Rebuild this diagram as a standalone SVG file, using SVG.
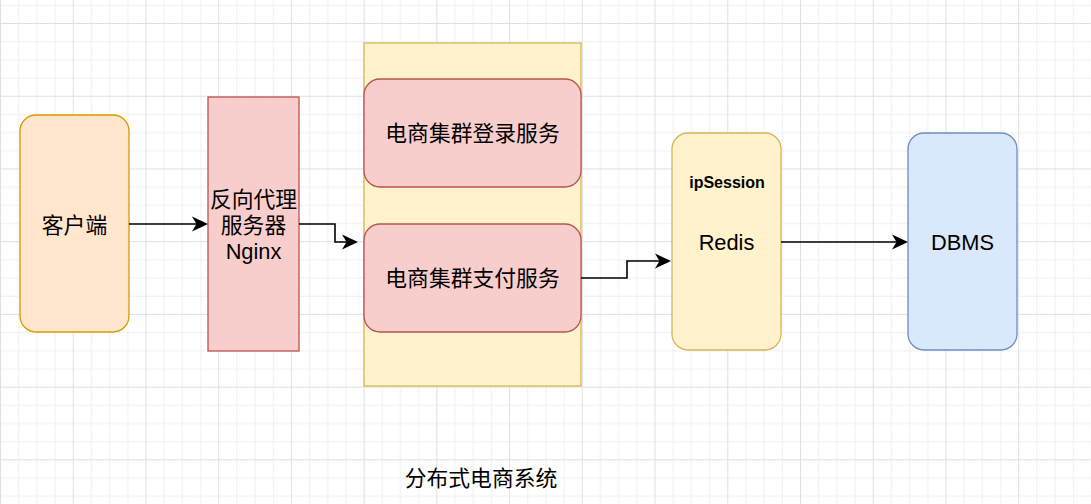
<svg xmlns="http://www.w3.org/2000/svg" width="1091" height="504" viewBox="0 0 1091 504">
<style>
.t{font-family:"Liberation Sans","Noto Sans CJK SC",sans-serif;font-size:21.8px;fill:#000;text-anchor:middle;dominant-baseline:central}
.b{font-family:"Liberation Sans","Noto Sans CJK SC",sans-serif;font-size:16px;font-weight:bold;fill:#000;text-anchor:middle;dominant-baseline:central}
.red{fill:#f8cecc;stroke:#b85450;stroke-width:1.3}
.yel{fill:#fff2cc;stroke:#d6b656;stroke-width:1.3}
.org{fill:#ffe6cc;stroke:#d79b00;stroke-width:1.3}
.blu{fill:#dae8fc;stroke:#6c8ebf;stroke-width:1.3}
.c{fill:none;stroke:#000;stroke-width:1.6;marker-end:url(#arr)}
</style>
<defs>
<pattern id="grid" patternUnits="userSpaceOnUse" x="0" y="23" width="72.727" height="72.727">
<path d="M18.68,0V72.727M36.86,0V72.727M55.05,0V72.727M0,18.68H72.727M0,36.86H72.727M0,55.05H72.727" stroke="#f0f0f0" stroke-width="1"/>
<path d="M0.5,0V72.727M0,0.5H72.727" stroke="#e0e0e0" stroke-width="1"/>
</pattern>
<marker id="arr" markerUnits="userSpaceOnUse" markerWidth="17" markerHeight="17" refX="12" refY="8.5" orient="auto">
<path d="M0,1 L16,8.5 L0,16 L4.5,8.5 Z" fill="#000"/>
</marker>
</defs>
<rect width="1091" height="504" fill="#fff"/>
<rect width="1091" height="504" fill="url(#grid)"/>
<g id="client"><rect class="org" x="20" y="115" width="109" height="217" rx="16"/><text class="t" x="74.5" y="225">客户端</text></g>
<g id="nginx"><rect class="red" x="208" y="97" width="91" height="254"/><text class="t" x="253.5" y="199">反向代理</text><text class="t" x="253.5" y="225">服务器</text><text class="t" x="253.5" y="251">Nginx</text></g>
<g id="cluster"><rect class="yel" x="364" y="43" width="217" height="343"/></g>
<g id="login"><rect class="red" x="364" y="79" width="217" height="108" rx="16"/><text class="t" x="472.5" y="133">电商集群登录服务</text></g>
<g id="pay"><rect class="red" x="364" y="224" width="217" height="108" rx="16"/><text class="t" x="472.5" y="278">电商集群支付服务</text></g>
<g id="redis"><rect class="yel" x="672" y="133" width="109" height="217" rx="16"/><text class="b" x="727" y="182">ipSession</text><text class="t" x="726.5" y="242">Redis</text></g>
<g id="dbms"><rect class="blu" x="908" y="133" width="109" height="217" rx="16"/><text class="t" x="962.5" y="242">DBMS</text></g>
<g id="label"><text class="t" x="481" y="478">分布式电商系统</text></g>
<g id="connectors">
<path class="c" d="M129,224 H204"/>
<path class="c" d="M299,224 H335 V242 H354"/>
<path class="c" d="M581,278 H627 V261 H667"/>
<path class="c" d="M781,242 H904"/>
</g>
</svg>
